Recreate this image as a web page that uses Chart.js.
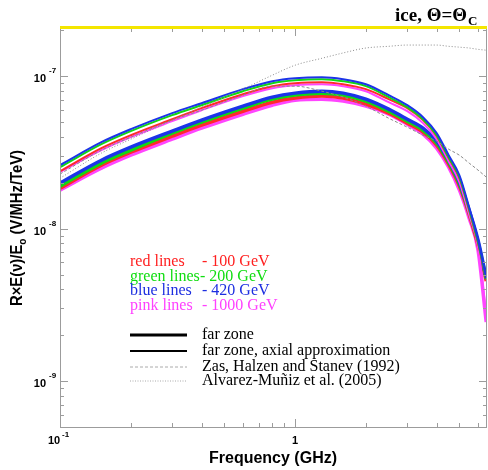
<!DOCTYPE html>
<html>
<head>
<meta charset="utf-8">
<script src="https://cdn.jsdelivr.net/npm/chart.js@4.4.1/dist/chart.umd.min.js"></script>
<style>
  html, body { margin: 0; padding: 0; background: #fff; }
</style>
</head>
<body>
<canvas id="c" width="488" height="470"></canvas>
<script>
// frequencies (GHz)
const freq = [0.1, 0.15, 0.2, 0.3, 0.4, 0.6, 0.8, 1.0, 1.3, 1.6, 2.0, 2.5, 3.0, 3.5, 4.0, 4.5, 5.0, 5.5, 6.0, 6.5];

// far zone, axial approximation (thin lines)
const axBlue  = [2.61e-8, 3.69e-8, 4.49e-8, 5.72e-8, 6.65e-8, 8.22e-8, 9.27e-8, 9.70e-8, 9.85e-8, 9.56e-8, 8.86e-8, 7.51e-8, 6.45e-8, 5.38e-8, 4.23e-8, 3.03e-8, 2.24e-8, 1.38e-8, 8.41e-9, 4.74e-9];
const axGreen = [2.53e-8, 3.58e-8, 4.36e-8, 5.55e-8, 6.45e-8, 7.97e-8, 9.00e-8, 9.41e-8, 9.56e-8, 9.27e-8, 8.60e-8, 7.29e-8, 6.26e-8, 5.22e-8, 4.10e-8, 2.94e-8, 2.18e-8, 1.34e-8, 8.15e-9, 4.67e-9];
const axRed   = [2.38e-8, 3.37e-8, 4.10e-8, 5.22e-8, 6.17e-8, 7.62e-8, 8.60e-8, 9.00e-8, 9.13e-8, 8.86e-8, 8.22e-8, 7.07e-8, 6.17e-8, 5.15e-8, 4.04e-8, 2.90e-8, 2.14e-8, 1.32e-8, 8.03e-9, 4.60e-9];
const axPink  = [2.35e-8, 3.27e-8, 3.98e-8, 5.07e-8, 5.98e-8, 7.40e-8, 8.34e-8, 8.73e-8, 8.86e-8, 8.60e-8, 7.97e-8, 6.75e-8, 5.89e-8, 4.92e-8, 3.86e-8, 2.77e-8, 2.02e-8, 1.24e-8, 7.56e-9, 2.71e-9];

// far zone (thick lines)
const farBlue  = [1.99e-8, 2.81e-8, 3.42e-8, 4.36e-8, 5.15e-8, 6.36e-8, 7.29e-8, 7.74e-8, 7.97e-8, 7.74e-8, 7.07e-8, 6.08e-8, 5.22e-8, 4.56e-8, 3.75e-8, 2.81e-8, 2.02e-8, 1.32e-8, 8.41e-9, 4.74e-9];
const farGreen = [1.90e-8, 2.69e-8, 3.27e-8, 4.23e-8, 4.99e-8, 6.17e-8, 7.07e-8, 7.51e-8, 7.74e-8, 7.51e-8, 6.86e-8, 5.89e-8, 5.07e-8, 4.42e-8, 3.64e-8, 2.73e-8, 1.96e-8, 1.28e-8, 8.15e-9, 4.67e-9];
const farRed   = [1.84e-8, 2.61e-8, 3.17e-8, 4.04e-8, 4.77e-8, 5.89e-8, 6.75e-8, 7.18e-8, 7.40e-8, 7.18e-8, 6.55e-8, 5.72e-8, 4.92e-8, 4.29e-8, 3.53e-8, 2.65e-8, 1.90e-8, 1.24e-8, 7.79e-9, 4.53e-9];
const farPink  = [1.79e-8, 2.49e-8, 3.03e-8, 3.86e-8, 4.56e-8, 5.63e-8, 6.45e-8, 6.96e-8, 7.07e-8, 6.86e-8, 6.36e-8, 5.63e-8, 4.84e-8, 4.17e-8, 3.37e-8, 2.53e-8, 1.79e-8, 1.17e-8, 7.23e-9, 2.44e-9];

// Zas, Halzen and Stanev (1992) / Alvarez-Muñiz et al. (2005)
const zhs = [2.28e-8, 3.27e-8, 3.98e-8, 5.15e-8, 5.98e-8, 7.51e-8, 8.60e-8, 8.60e-8, 7.97e-8, 7.29e-8, 6.36e-8, 5.30e-8, 4.63e-8, 4.10e-8, 3.75e-8, 3.32e-8, 3.03e-8, 2.69e-8, 2.42e-8, 2.18e-8];
const alv = [2.14e-8, 3.13e-8, 3.86e-8, 5.15e-8, 6.26e-8, 8.22e-8, 1.015e-7, 1.18e-7, 1.31e-7, 1.42e-7, 1.53e-7, 1.57e-7, 1.60e-7, 1.60e-7, 1.60e-7, 1.57e-7, 1.55e-7, 1.53e-7, 1.50e-7, 1.48e-7];

// axis labels
const xTicks = [{ v: 0.1, base: '10', exp: '-1' }, { v: 1, base: '1', exp: '' }];
const yTicks = [{ v: 1e-7, exp: '-7' }, { v: 1e-8, exp: '-8' }, { v: 1e-9, exp: '-9' }];

const energyRows = [
    { name: 'red lines', value: '- 100 GeV', color: '#ff2020' },
    { name: 'green lines', value: '- 200 GeV', color: '#10dd10' },
    { name: 'blue lines', value: '- 420 GeV', color: '#1c2ee0' },
    { name: 'pink lines', value: '- 1000 GeV', color: '#ff40ff' }
];
const styleRows = ['far zone', 'far zone, axial approximation', 'Zas, Halzen and Stanev (1992)', 'Alvarez-Muñiz et al. (2005)'];

const C = { red: '#ff2a2a', green: '#12d812', blue: '#1c34e8', pink: '#ff45ff', gray: '#8a8a8a' };

function pts(arr) {
    return freq.map((f, i) => ({ x: f, y: arr[i] }));
}

function line(arr, color, width, dash) {
    return {
        data: pts(arr),
        borderColor: color,
        borderWidth: width,
        borderDash: dash || [],
        pointRadius: 0,
        fill: false,
        cubicInterpolationMode: 'monotone'
    };
}

const SANS = 'Liberation Sans, Arial, sans-serif';
const SERIF = 'Liberation Serif, Times New Roman, serif';

const decor = {
    id: 'decor',
    afterDatasetsDraw(chart) {
        const { ctx, chartArea: a, scales: { x, y } } = chart;
        ctx.save();

        // frame
        ctx.strokeStyle = '#9c9c9c';
        ctx.lineWidth = 1;
        ctx.beginPath();
        ctx.moveTo(a.left + 0.5, a.top);
        ctx.lineTo(a.left + 0.5, a.bottom + 0.5);
        ctx.lineTo(a.right - 0.5, a.bottom + 0.5);
        ctx.lineTo(a.right - 0.5, a.top);
        ctx.stroke();

        // ticks
        ctx.beginPath();
        for (let k = -1; k <= 0; k++) {
            for (let m = 1; m <= 9; m++) {
                const v = m * Math.pow(10, k);
                if (v > x.max) continue;
                const px = Math.round(x.getPixelForValue(v)) + 0.5;
                const len = m === 1 ? 8 : 4;
                ctx.moveTo(px, a.bottom); ctx.lineTo(px, a.bottom - len);
                ctx.moveTo(px, a.top); ctx.lineTo(px, a.top + len);
            }
        }
        for (let k = -10; k <= -7; k++) {
            for (let m = 1; m <= 9; m++) {
                const v = m * Math.pow(10, k);
                if (v < y.min || v > y.max) continue;
                const py = Math.round(y.getPixelForValue(v)) + 0.5;
                const len = m === 1 ? 8 : 4;
                ctx.moveTo(a.left, py); ctx.lineTo(a.left + len, py);
                ctx.moveTo(a.right, py); ctx.lineTo(a.right - len, py);
            }
        }
        ctx.stroke();

        // yellow top border
        ctx.fillStyle = '#f4e600';
        ctx.fillRect(a.left, a.top - 2, a.right - a.left, 3);

        // tick labels
        ctx.fillStyle = '#000';
        ctx.textBaseline = 'alphabetic';
        yTicks.forEach(t => {
            const py = y.getPixelForValue(t.v);
            ctx.font = 'bold 11px ' + SANS;
            ctx.textAlign = 'right';
            ctx.fillText('10', 46, py + 6);
            ctx.font = 'bold 8px ' + SANS;
            ctx.textAlign = 'left';
            ctx.fillText(t.exp, 49, py - 3);
        });
        xTicks.forEach(t => {
            const px = x.getPixelForValue(t.v);
            ctx.font = 'bold 11px ' + SANS;
            ctx.textAlign = 'center';
            const off = t.exp ? -6 : 0;
            ctx.fillText(t.base, px + off, a.bottom + 17);
            if (t.exp) {
                ctx.font = 'bold 8px ' + SANS;
                ctx.textAlign = 'left';
                ctx.fillText(t.exp, px + 2, a.bottom + 10);
            }
        });

        // x title
        ctx.font = 'bold 16px ' + SANS;
        ctx.textAlign = 'center';
        ctx.fillText('Frequency (GHz)', 273, 463);

        // y title, rotated
        ctx.save();
        ctx.translate(22, 228);
        ctx.rotate(-Math.PI / 2);
        const p1 = 'R×E(ν)/E', p2 = 'o', p3 = ' (V/MHz/TeV)';
        ctx.font = 'bold 16px ' + SANS;
        const w1 = ctx.measureText(p1).width, w3 = ctx.measureText(p3).width;
        ctx.font = 'bold 11px ' + SANS;
        const w2 = ctx.measureText(p2).width;
        const total = w1 + w2 + w3;
        ctx.scale(156 / total, 1);
        ctx.textAlign = 'left';
        let cx = -total / 2;
        ctx.font = 'bold 16px ' + SANS;
        ctx.fillText(p1, cx, 0); cx += w1;
        ctx.font = 'bold 11px ' + SANS;
        ctx.fillText(p2, cx, 4); cx += w2;
        ctx.font = 'bold 16px ' + SANS;
        ctx.fillText(p3, cx, 0);
        ctx.restore();

        // title
        ctx.textAlign = 'left';
        ctx.font = 'bold 19px ' + SERIF;
        const t1 = 'ice, Θ=Θ';
        ctx.fillText(t1, 395, 21);
        const tw = ctx.measureText(t1).width;
        ctx.font = 'bold 13px ' + SERIF;
        ctx.fillText('C', 395 + tw + 1, 25);

        // energy legend
        ctx.font = '16px ' + SERIF;
        energyRows.forEach((r, i) => {
            const by = 266 + i * 14.5;
            ctx.fillStyle = r.color;
            ctx.fillText(r.name, 130, by);
            ctx.fillText(r.value, i === 1 ? 200 : 202, by);
        });

        // line style legend
        const ly = [335, 351, 367, 381];
        const styles = [
            { w: 3, c: '#000', d: [] },
            { w: 2, c: '#000', d: [] },
            { w: 1, c: '#aaa', d: [3, 2] },
            { w: 1, c: '#aaa', d: [1, 1.5] }
        ];
        styles.forEach((s, i) => {
            ctx.beginPath();
            ctx.strokeStyle = s.c;
            ctx.lineWidth = s.w;
            ctx.setLineDash(s.d);
            ctx.moveTo(130, ly[i]);
            ctx.lineTo(187, ly[i]);
            ctx.stroke();
        });
        ctx.setLineDash([]);
        ctx.fillStyle = '#000';
        ctx.font = '16px ' + SERIF;
        styleRows.forEach((t, i) => {
            ctx.fillText(t, 202, ly[i] + 4);
        });

        ctx.restore();
    }
};

new Chart(document.getElementById('c').getContext('2d'), {
    type: 'line',
    data: {
        datasets: [
            line(alv, C.gray, 1, [1, 2]),
            line(zhs, C.gray, 1, [3, 2]),
            line(axBlue, C.blue, 2),
            line(axGreen, C.green, 2),
            line(axRed, C.red, 2),
            line(axPink, C.pink, 2),
            line(farBlue, C.blue, 3.5),
            line(farGreen, C.green, 3.5),
            line(farRed, C.red, 3.5),
            line(farPink, C.pink, 3.5)
        ]
    },
    options: {
        responsive: false,
        animation: false,
        layout: { padding: { left: 60, top: 28, right: 1, bottom: 43 } },
        plugins: { legend: { display: false }, tooltip: { enabled: false } },
        scales: {
            x: { type: 'logarithmic', min: 0.1, max: 6.55, display: false },
            y: { type: 'logarithmic', min: 5e-10, max: 2.07e-7, display: false }
        }
    },
    plugins: [decor]
});
</script>
</body>
</html>
